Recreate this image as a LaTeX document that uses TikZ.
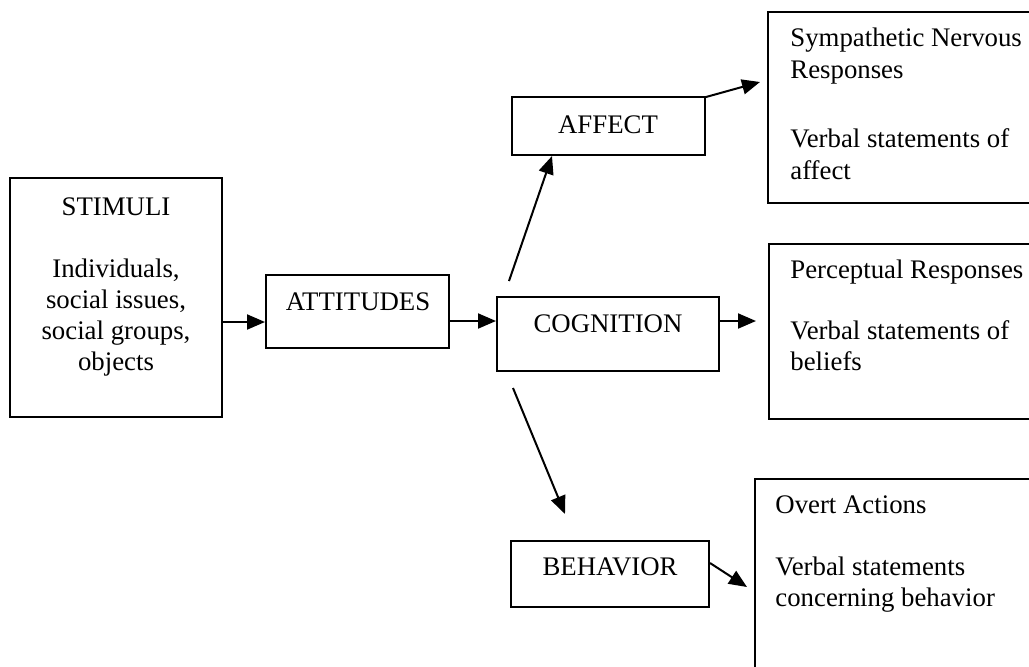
\documentclass[tikz,border=0pt]{standalone}
\usepackage{fontspec}
\setmainfont{Liberation Serif}
\usetikzlibrary{arrows.meta,fit,calc}
\begin{document}
\begin{tikzpicture}[x=0.5pt,y=-0.5pt,
  box/.style={draw, line width=1pt, inner sep=0pt},
  txt/.style={inner sep=0pt, font=\fontsize{13.4}{15}\selectfont},
  arr/.style={line width=1pt, -{Triangle[length=9pt,width=7.5pt]}}]
\useasboundingbox (0,0) rectangle (1029,666);
\clip (0,0) rectangle (1029,666);
% boxes
\node[box, fit={(10,178)(222,417)}] (stim) {};
\node[box, fit={(266,275)(449,348)}] (att) {};
\node[box, fit={(497,297)(719,371)}] (cog) {};
\node[box, fit={(512,97)(705,155)}] (aff) {};
\node[box, fit={(511,541)(709,607)}] (beh) {};
\node[box, fit={(768,12)(1045,203)}] (symp) {};
\node[box, fit={(769,244)(1045,419)}] (perc) {};
\node[box, fit={(755,479)(1045,690)}] (overt) {};
% texts
\node[txt, anchor=base] (stimT) at (116,215) {STIMULI};
\node[txt, anchor=base] (stimA) at (116,277) {Individuals,};
\node[txt, anchor=base] (stimB) at (116,308) {social issues,};
\node[txt, anchor=base] (stimC) at (116,339) {social groups,};
\node[txt, anchor=base] (stimD) at (116,370) {objects};
\node[txt, anchor=base] (attT) at (358,310) {ATTITUDES};
\node[txt, anchor=base] (cogT) at (608,332) {COGNITION};
\node[txt, anchor=base] (affT) at (608,133) {AFFECT};
\node[txt, anchor=base] (behT) at (610,575) {BEHAVIOR};
\node[txt, anchor=base west] (sympA) at (790,46) {Sympathetic Nervous};
\node[txt, anchor=base west] (sympB) at (790,78) {Responses};
\node[txt, anchor=base west] (sympC) at (790,147) {Verbal statements of};
\node[txt, anchor=base west] (sympD) at (790,179) {affect};
\node[txt, anchor=base west] (percA) at (790,278) {Perceptual Responses};
\node[txt, anchor=base west] (percB) at (790,339) {Verbal statements of};
\node[txt, anchor=base west] (percC) at (790,370) {beliefs};
\node[txt, anchor=base west] (overtA) at (775,513) {Overt Actions};
\node[txt, anchor=base west] (overtB) at (775,575) {Verbal statements};
\node[txt, anchor=base west] (overtC) at (775,606) {concerning behavior};
% connectors
\coordinate (h1) at (0,322);
\coordinate (h2) at (0,321);
\draw[arr] (stim.east |- h1) -- (att.west |- h1);
\draw[arr] (att.east |- h2) -- (cog.west |- h2);
\draw[arr] (cog.east |- h2) -- ($(perc.west |- h2)+(-12,0)$);
\coordinate (upS) at (509,281);
\draw[arr] (upS) -- ($(aff.south west)+(41,0)$);
\draw[arr] ($(aff.north east)+(0,1)$) -- ($(symp.west |- 0,82)+(-7,0)$);
\coordinate (dnS) at (513,388);
\coordinate (dnE) at (565,514);
\draw[arr] (dnS) -- (dnE);
\draw[arr] ($(beh.east)+(0,-11)$) -- ($(overt.west |- 0,587)+(-7,0)$);
\end{tikzpicture}
\end{document}
